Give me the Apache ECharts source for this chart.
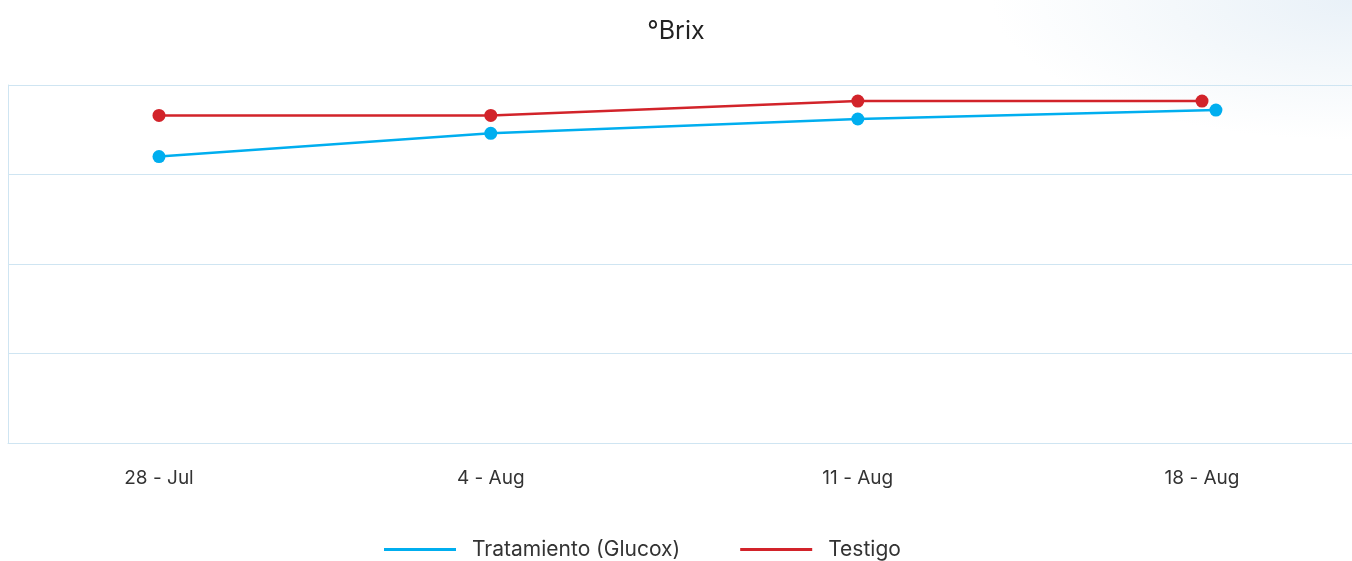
<!DOCTYPE html>
<html>
<head>
<meta charset="utf-8">
<script src="https://cdn.jsdelivr.net/npm/echarts@6/dist/echarts.min.js"></script>
<style>
    html, body {
        margin: 0;
        padding: 0;
        width: 1352px;
        height: 561px;
        overflow: hidden;
        background: radial-gradient(ellipse 360px 140px at 1352px 0px, #e9f1f8 0%, #f4f8fb 50%, #ffffff 100%);
    }
    #chart {
        width: 1352px;
        height: 561px;
    }
</style>
</head>
<body>
<div id="chart"></div>
<script>
// etiquetas del eje x y su posición (días desde 28 - Jul)
var dateLabels = ['28 - Jul', '4 - Aug', '11 - Aug', '18 - Aug'];
var labelDays = [0, 6.68, 14.07, 21];

// valores de °Brix
var treatmentDays = [0, 6.68, 14.07, 21.28];
var treatmentValues = [16.0, 17.3, 18.1, 18.6];
var controlDays = [0, 6.68, 14.07, 21];
var controlValues = [18.3, 18.3, 19.1, 19.1];

var seriesNames = ['Tratamiento (Glucox)', 'Testigo'];

function pairs(xs, ys) {
    var out = [];
    for (var i = 0; i < xs.length; i++) {
        out.push([xs[i], ys[i]]);
    }
    return out;
}

var gridColor = '#cfe5f2';

var option = {
    textStyle: {
        fontFamily: 'Inter'
    },
    title: {
        text: '°Brix',
        left: 'center',
        top: 14,
        textStyle: {
            fontFamily: 'Inter',
            fontSize: 25,
            fontWeight: 'normal',
            color: '#222'
        }
    },
    legend: {
        data: seriesNames,
        left: 379,
        top: 534,
        icon: 'rect',
        itemWidth: 72,
        itemHeight: 3,
        itemGap: 60,
        textStyle: {
            fontFamily: 'Inter',
            fontSize: 21,
            color: '#333',
            padding: [0, 0, 0, 11]
        }
    },
    grid: {
        left: 8,
        right: 0,
        top: 85,
        bottom: 118,
        containLabel: false
    },
    xAxis: {
        type: 'value',
        min: -3.04,
        max: 24.02,
        axisLine: {
            show: true,
            onZero: false,
            lineStyle: {color: gridColor}
        },
        axisTick: {show: false},
        splitLine: {show: false},
        axisLabel: {
            customValues: labelDays,
            margin: 26,
            fontSize: 19,
            color: '#333',
            formatter: function (v) {
                for (var i = 0; i < labelDays.length; i++) {
                    if (Math.abs(labelDays[i] - v) < 0.01) {
                        return dateLabels[i];
                    }
                }
                return '';
            }
        }
    },
    yAxis: {
        type: 'value',
        min: 0,
        max: 20,
        interval: 5,
        axisLine: {
            show: true,
            onZero: false,
            lineStyle: {color: gridColor}
        },
        axisTick: {show: false},
        axisLabel: {show: false},
        splitLine: {
            show: true,
            lineStyle: {color: gridColor}
        }
    },
    series: [
        {
            name: seriesNames[0],
            type: 'line',
            data: pairs(treatmentDays, treatmentValues),
            color: '#00aeef',
            symbol: 'circle',
            symbolSize: 13,
            lineStyle: {width: 2.5},
            z: 2
        },
        {
            name: seriesNames[1],
            type: 'line',
            data: pairs(controlDays, controlValues),
            color: '#d2232a',
            symbol: 'circle',
            symbolSize: 13,
            lineStyle: {width: 2.5},
            z: 3
        }
    ]
};

var chart = echarts.init(document.getElementById('chart'));
chart.setOption(option);
</script>
</body>
</html>
